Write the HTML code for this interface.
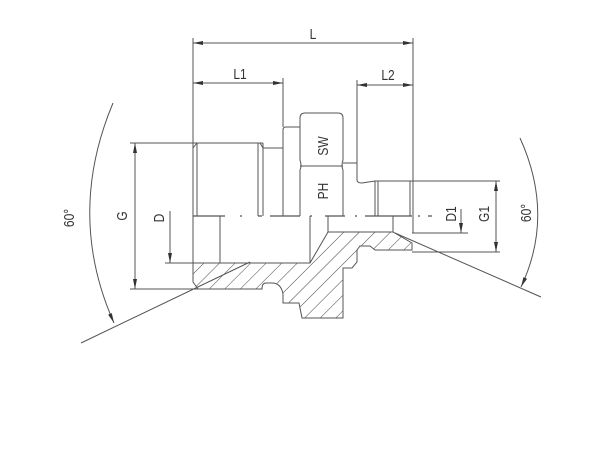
<!DOCTYPE html>
<html><head><meta charset="utf-8"><style>
html,body{margin:0;padding:0;background:#fff;}
svg{display:block;}
text{font-family:"Liberation Sans",sans-serif;font-size:15px;fill:#333;}
</style></head><body>
<svg width="600" height="450" viewBox="0 0 600 450" xmlns="http://www.w3.org/2000/svg">
<defs>
<pattern id="h" patternUnits="userSpaceOnUse" width="11" height="11" patternTransform="rotate(45)">
<line x1="0" y1="0" x2="0" y2="11" stroke="#444" stroke-width="1"/>
</pattern>
<marker id="a" viewBox="0 0 10 4" refX="10" refY="2" markerWidth="10" markerHeight="4" orient="auto-start-reverse" markerUnits="userSpaceOnUse">
<path d="M0,0 L10,2 L0,4z" fill="#333"/>
</marker>
</defs>
<g stroke="#555" stroke-width="1" fill="none">
<path d="M193,263 L310,263 L328,232 L393,232 L412,243 L412,250 L375,250 L370,246 L360,246 L357,250 L357,262 L352,268 L343,268 L343,318 L302,318 L299,303 L283,303 L283,294 Q281,283 272,283 L266,283 Q262,283 262,289 L198,289 L193,282 Z" fill="url(#h)" stroke="#555"/>
<line x1="193" y1="38" x2="193" y2="282"/>
<line x1="413" y1="38" x2="413" y2="233"/>
<line x1="283" y1="78" x2="283" y2="127"/>
<line x1="357" y1="80" x2="357" y2="180"/>
<line x1="193" y1="43" x2="413" y2="43" marker-start="url(#a)" marker-end="url(#a)"/>
<line x1="193" y1="83" x2="283" y2="83" marker-start="url(#a)" marker-end="url(#a)"/>
<line x1="357" y1="85" x2="413" y2="85" marker-start="url(#a)" marker-end="url(#a)"/>
<line x1="130" y1="143" x2="263" y2="143"/>
<line x1="197" y1="143" x2="197" y2="216"/>
<line x1="193" y1="148" x2="197" y2="143"/>
<line x1="258" y1="143" x2="258" y2="216"/>
<line x1="263" y1="143" x2="263" y2="216"/>
<line x1="263" y1="148" x2="283" y2="148"/>
<line x1="260" y1="143" x2="263" y2="148"/>
<path d="M283,216 L283,130 Q283,127 286,127 L300,127"/>
<path d="M300,216 L300,170 Q302,166 300,160 L300,118 Q300,113 305,113 L338,113 Q343,113 343,118 L343,160 Q341,166 343,170 L343,216"/>
<line x1="300" y1="166" x2="343" y2="166"/>
<line x1="343" y1="163" x2="357" y2="163"/>
<path d="M357,180 Q357,183 362,183 L375,181 L413,181"/>
<line x1="375" y1="181" x2="375" y2="216"/>
<line x1="378" y1="181" x2="378" y2="216"/>
<line x1="410" y1="181" x2="410" y2="216"/>
<line x1="413" y1="181" x2="413" y2="216"/>
<line x1="413" y1="181" x2="500" y2="181"/>
<line x1="220" y1="216" x2="220" y2="263"/>
<line x1="310" y1="216" x2="310" y2="263"/>
<line x1="328" y1="216" x2="328" y2="232"/>
<line x1="393" y1="216" x2="393" y2="232"/>
<line x1="165" y1="263" x2="193" y2="263"/>
<line x1="412" y1="233" x2="468" y2="233"/>
<line x1="412" y1="252" x2="500" y2="252"/>
<line x1="130" y1="289" x2="198" y2="289"/>
<path d="M193,216 L225,216 M240,216 L242,216 M258,216 L262,216 M270,216 L300,216 M310,216 L312,216 M325,216 L345,216 M355,216 L357,216 M365,216 L412,216 M418,216 L420,216 M428,216 L432,216" stroke-width="1.2"/>
<line x1="135" y1="143" x2="135" y2="289" marker-start="url(#a)" marker-end="url(#a)"/>
<line x1="170" y1="211" x2="170" y2="263" marker-end="url(#a)"/>
<line x1="496" y1="181" x2="496" y2="252" marker-start="url(#a)" marker-end="url(#a)"/>
<line x1="461" y1="209" x2="461" y2="233" marker-end="url(#a)"/>
<line x1="81" y1="343" x2="250" y2="262"/>
<line x1="395" y1="233" x2="541" y2="297"/>
<path d="M113,103 Q66,215 114,323" marker-end="url(#a)"/>
<path d="M520,138 Q555,215 521,287" marker-end="url(#a)"/>
</g>
<text transform="translate(313,39) scale(0.8,1)" text-anchor="middle">L</text>
<text transform="translate(240,79) scale(0.8,1)" text-anchor="middle">L1</text>
<text transform="translate(388,80) scale(0.8,1)" text-anchor="middle">L2</text>
<text transform="translate(328,146) rotate(-90) scale(0.8,1)" text-anchor="middle">SW</text>
<text transform="translate(328,191) rotate(-90) scale(0.8,1)" text-anchor="middle">PH</text>
<text transform="translate(127,216) rotate(-90) scale(0.8,1)" text-anchor="middle">G</text>
<text transform="translate(164,218) rotate(-90) scale(0.8,1)" text-anchor="middle">D</text>
<text transform="translate(456,214) rotate(-90) scale(0.8,1)" text-anchor="middle">D1</text>
<text transform="translate(489,214) rotate(-90) scale(0.8,1)" text-anchor="middle">G1</text>
<text transform="translate(74,218) rotate(-90) scale(0.8,1)" text-anchor="middle">60°</text>
<text transform="translate(531,213) rotate(-90) scale(0.8,1)" text-anchor="middle">60°</text>
</svg>
</body></html>
